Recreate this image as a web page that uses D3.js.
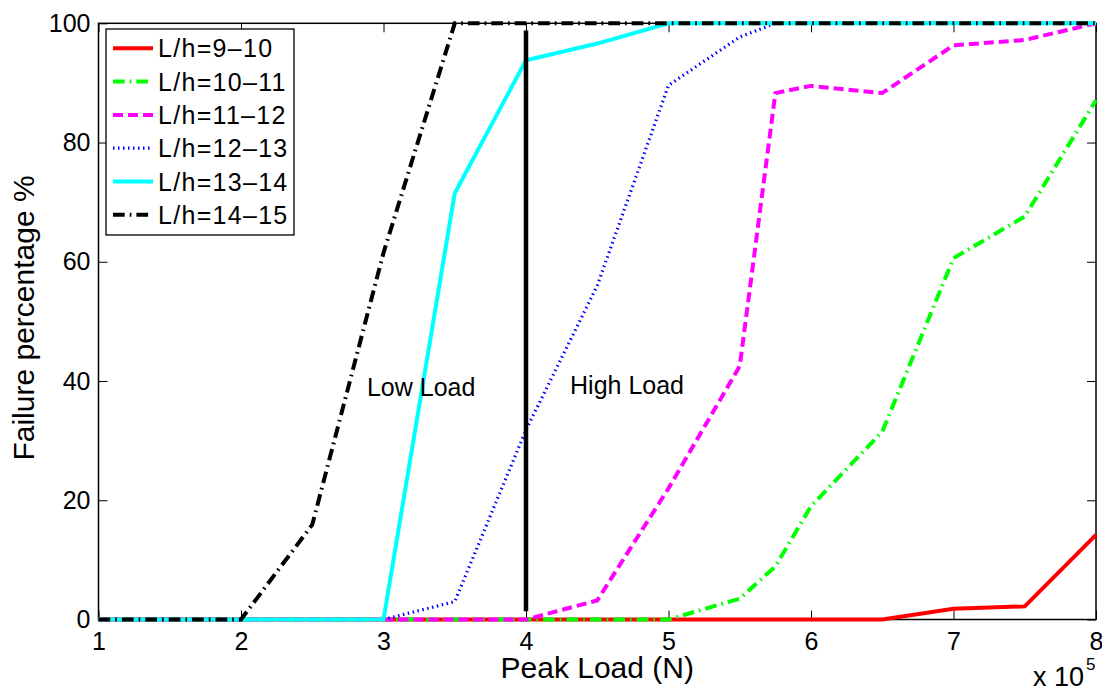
<!DOCTYPE html>
<html><head><meta charset="utf-8">
<script src="https://cdn.jsdelivr.net/npm/d3@7"></script>
<style>
body{margin:0;background:#fff}
svg{display:block}
text{font-family:"Liberation Sans",Arial,Helvetica,sans-serif;fill:#000}
</style>
</head><body>
<svg id="c" width="1102" height="691"></svg>
<script>
// ---- data ----
const peakLoad = [1,1.5,2,2.5,3,3.5,4,4.5,5,5.5,5.75,6,6.5,7,7.5,8]; // x 10^5 N
const lh9_10  = [0,0,0,0,0,0,0,0,0,0,0,0,0,1.8,2.2,14.2];
const lh10_11 = [0,0,0,0,0,0,0,0,0,3.5,8.9,19,31.5,60.6,67.6,87.1];
const lh11_12 = [0,0,0,0,0,0,0,3.2,22,42.5,88.3,89.5,88.3,96.3,97.2,100];
const lh12_13 = [0,0,0,0,0,3,31.8,56,89.6,97.7,100,100,100,100,100,100];
const lh13_14 = [0,0,0,0,0,71.5,93.8,96.6,100,100,100,100,100,100,100,100];
const lh14_15 = [0,0,0,15.9,61.5,100,100,100,100,100,100,100,100,100,100,100];
const seriesLabels = ["L/h=9\u201310","L/h=10\u201311","L/h=11\u201312","L/h=12\u201313","L/h=13\u201314","L/h=14\u201315"];
const xTickValues = [1,2,3,4,5,6,7,8];
const yTickValues = [0,20,40,60,80,100];
const dividerX = [4,4];
const dividerY = [1.4,98.8];
const annotations = ["Low Load","High Load"];
const annotationX = [2.884,4.309];
const annotationY = [37.5,37.9];

// ---- styles ----
const colors = ["#ff0000","#00ff00","#ff00ff","#0000ff","#00ffff","#000000"];
const dashes = [null,"11.7,5,1.7,5","10,5","1.5,3.5",null,"11.7,5,1.7,5"];
const widths = [4,4,4,3.2,4,4];

const svg = d3.select("#c");
const L=98.5, R=1096, T=23.3, B=619.5;
const x = d3.scaleLinear().domain([1,8]).range([L,R]);
const y = d3.scaleLinear().domain([0,100]).range([B,T]);

const allSeries = [lh9_10,lh10_11,lh11_12,lh12_13,lh13_14,lh14_15];
const line = d3.line().x((d,i)=>x(peakLoad[i])).y(d=>y(d));

// axes box + ticks
const gx = svg.append("g").attr("transform",`translate(0,${B})`)
  .call(d3.axisBottom(x).tickValues(xTickValues).tickFormat(d3.format("d")).tickSize(-9).tickPadding(13));
const gxt = svg.append("g").attr("transform",`translate(0,${T})`)
  .call(d3.axisTop(x).tickValues(xTickValues).tickFormat("").tickSize(-9));
const gy = svg.append("g").attr("transform",`translate(${L},0)`)
  .call(d3.axisLeft(y).tickValues(yTickValues).tickFormat(d3.format("d")).tickSize(-9).tickPadding(8));
const gyr = svg.append("g").attr("transform",`translate(${R},0)`)
  .call(d3.axisRight(y).tickValues(yTickValues).tickFormat("").tickSize(-9));
[gx,gxt,gy,gyr].forEach(g=>{
  g.select(".domain").remove();
  g.selectAll(".tick line").attr("stroke","#000").attr("stroke-width",1);
  g.selectAll(".tick text").attr("font-size",25).attr("fill","#000")
    .style("font-family","'Liberation Sans',Arial,Helvetica,sans-serif");
});
gx.selectAll(".tick text").attr("dy","0.71em");
svg.append("rect").attr("x",L).attr("y",T).attr("width",R-L).attr("height",B-T)
  .attr("fill","none").attr("stroke","#000").attr("stroke-width",1.5);

// series
allSeries.forEach((s,i)=>{
  svg.append("path").datum(s).attr("d",line).attr("fill","none")
    .attr("stroke",colors[i]).attr("stroke-width",widths[i])
    .attr("stroke-dasharray",dashes[i]).attr("stroke-linejoin","miter");
});

// divider
svg.append("line").attr("x1",x(dividerX[0])).attr("x2",x(dividerX[1]))
  .attr("y1",y(dividerY[0])).attr("y2",y(dividerY[1]))
  .attr("stroke","#000").attr("stroke-width",4.5);

// annotations
annotations.forEach((t,i)=>{
  svg.append("text").attr("x",x(annotationX[i])).attr("y",y(annotationY[i]))
    .attr("font-size",25).text(t);
});

// axis labels
svg.append("text").attr("x",(L+R)/2).attr("y",678).attr("text-anchor","middle")
  .attr("font-size",30).text("Peak Load (N)");
svg.append("text").attr("transform","translate(34,318) rotate(-90)").attr("text-anchor","middle")
  .attr("font-size",30).text("Failure percentage %");
const ex = svg.append("text").attr("x",1033).attr("y",686).attr("font-size",27);
ex.append("tspan").text("x 10");
ex.append("tspan").attr("font-size",17).attr("dy",-16).attr("dx",2).text("5");

// legend
const lg = svg.append("g");
lg.append("rect").attr("x",106).attr("y",29).attr("width",188).attr("height",206)
  .attr("fill","#fff").attr("stroke","#000").attr("stroke-width",1.3);
seriesLabels.forEach((lab,i)=>{
  const yy = 48.3 + i*33.3;
  lg.append("line").attr("x1",113).attr("x2",153).attr("y1",yy).attr("y2",yy)
    .attr("stroke",colors[i]).attr("stroke-width",widths[i]).attr("stroke-dasharray",dashes[i]);
  lg.append("text").attr("x",158).attr("y",yy).attr("dy","0.36em")
    .attr("font-size",25).attr("letter-spacing",1.3).text(lab);
});
</script>
</body></html>
